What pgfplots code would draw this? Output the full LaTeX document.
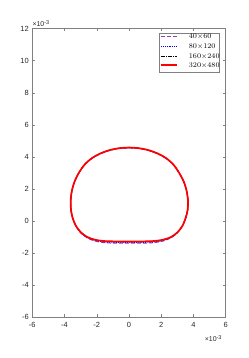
\documentclass[border=0pt]{standalone}
\usepackage{pgfplots}
\pgfplotsset{compat=1.18}
\usepackage{fontspec}
\newfontfamily\sansf{Liberation Sans}
\definecolor{axgray}{RGB}{38,38,38}
\definecolor{mpurple}{rgb}{0.55,0.25,0.7}
\definecolor{mblue}{rgb}{0,0,1}
\definecolor{mred}{rgb}{1,0,0}
\tikzset{
  sA/.style={draw=mpurple, dash pattern=on 4bp off 2bp, line width=1bp},
  sB/.style={draw=mblue, dash pattern=on 0.9bp off 0.9bp, line width=0.9bp},
  sC/.style={draw=black, dash pattern=on 3.5bp off 1.2bp on 0.9bp off 1.2bp, line width=0.9bp},
  sD/.style={draw=mred, solid, line width=1.7bp},
}
\begin{document}
\begin{tikzpicture}
\path[use as bounding box] (0,0) rectangle (249bp,358bp);
\begin{axis}[
  name=ax,
  at={(32.3bp,41bp)}, anchor=south west,
  scale only axis, width=193.4bp, height=288.3bp,
  xmin=-6, xmax=6, ymin=-6, ymax=12,
  xtick={-6,-4,-2,0,2,4,6}, ytick={-6,-4,-2,0,2,4,6,8,10,12},
  xticklabels={-6,-4,-2,0,2,4,6},
  yticklabels={-6,-4,-2,0,2,4,6,8,10,12},
  tick align=inside, xtick pos=both, ytick pos=both,
  xticklabel pos=lower, yticklabel pos=left,
  major tick length=2.5bp,
  axis line style={black!50, line width=0.5bp},
  every tick/.style={black!50, line width=0.5bp},
  ticklabel style={font=\sansf\fontsize{7.5}{9}\selectfont, text=axgray},
  xticklabel style={yshift=-2bp},
]
\addplot[sA, smooth] coordinates {
(0,4.56) (0.6,4.52) (1.2,4.40) (1.8,4.18) (2.3,3.90) (2.75,3.50) (3.1,3.00) (3.4,2.43) (3.58,1.83) (3.66,1.23) (3.64,0.68) (3.52,0.18) (3.30,-0.33) (3.00,-0.75) (2.60,-1.06) (2.1,-1.26) (1.5,-1.36) (0.8,-1.39) (0,-1.39) (-0.8,-1.39) (-1.5,-1.36) (-2.1,-1.26) (-2.6,-1.06) (-3.0,-0.75) (-3.28,-0.33) (-3.5,0.18) (-3.6,0.68) (-3.62,1.23) (-3.55,1.83) (-3.38,2.43) (-3.1,3.00) (-2.75,3.50) (-2.3,3.90) (-1.8,4.18) (-1.2,4.40) (-0.6,4.52) (0,4.56)
};
\addplot[sB, smooth] coordinates {
(0,4.57) (0.6,4.53) (1.2,4.41) (1.8,4.19) (2.3,3.91) (2.75,3.51) (3.1,3.01) (3.4,2.44) (3.58,1.84) (3.66,1.24) (3.64,0.69) (3.52,0.19) (3.31,-0.31) (3.01,-0.72) (2.61,-1.03) (2.1,-1.22) (1.5,-1.32) (0.8,-1.34) (0,-1.34) (-0.8,-1.34) (-1.5,-1.32) (-2.1,-1.22) (-2.6,-1.03) (-3.0,-0.72) (-3.29,-0.31) (-3.5,0.19) (-3.6,0.69) (-3.62,1.24) (-3.55,1.84) (-3.38,2.44) (-3.1,3.01) (-2.75,3.51) (-2.3,3.91) (-1.8,4.19) (-1.2,4.41) (-0.6,4.53) (0,4.57)
};
\addplot[sC, smooth] coordinates {
(0,4.58) (0.6,4.54) (1.2,4.42) (1.8,4.20) (2.3,3.92) (2.75,3.52) (3.1,3.02) (3.4,2.45) (3.58,1.85) (3.66,1.25) (3.64,0.70) (3.52,0.20) (3.32,-0.30) (3.02,-0.70) (2.62,-1.00) (2.1,-1.19) (1.5,-1.27) (0.8,-1.29) (0,-1.29) (-0.8,-1.29) (-1.5,-1.27) (-2.1,-1.19) (-2.6,-1.00) (-3.0,-0.70) (-3.3,-0.30) (-3.5,0.20) (-3.6,0.70) (-3.62,1.25) (-3.55,1.85) (-3.38,2.45) (-3.1,3.02) (-2.75,3.52) (-2.3,3.92) (-1.8,4.20) (-1.2,4.42) (-0.6,4.54) (0,4.58)
};
\addplot[sD, smooth] coordinates {
(0,4.58) (0.6,4.54) (1.2,4.42) (1.8,4.20) (2.3,3.92) (2.75,3.52) (3.1,3.02) (3.4,2.45) (3.58,1.85) (3.66,1.25) (3.64,0.70) (3.52,0.20) (3.32,-0.30) (3.02,-0.70) (2.62,-1.00) (2.1,-1.18) (1.5,-1.26) (0.8,-1.28) (0,-1.28) (-0.8,-1.28) (-1.5,-1.26) (-2.1,-1.18) (-2.6,-1.00) (-3.0,-0.70) (-3.3,-0.30) (-3.5,0.20) (-3.6,0.70) (-3.62,1.25) (-3.55,1.85) (-3.38,2.45) (-3.1,3.02) (-2.75,3.52) (-2.3,3.92) (-1.8,4.20) (-1.2,4.42) (-0.6,4.54) (0,4.58)
};
\end{axis}
% legend
\draw[black!50, line width=0.5bp, fill=white] ([shift={(-66.4bp,-4.3bp)}]ax.north east) rectangle ([shift={(-6.7bp,-43.3bp)}]ax.north east);
\draw[sA] ([shift={(-64.4bp,-8.3bp)}]ax.north east) -- ++(16bp,0);
\draw[sB] ([shift={(-64.4bp,-17.6bp)}]ax.north east) -- ++(16bp,0);
\draw[sC] ([shift={(-64.4bp,-27.3bp)}]ax.north east) -- ++(16bp,0);
\draw[sD] ([shift={(-64.4bp,-36.6bp)}]ax.north east) -- ++(16bp,0);
\begin{scope}[every node/.style={anchor=west, inner sep=0pt, font=\fontsize{7.2}{8}\selectfont}]
\node at ([shift={(-37bp,-8.3bp)}]ax.north east) {40$\times$60};
\node at ([shift={(-37bp,-17.6bp)}]ax.north east) {80$\times$120};
\node at ([shift={(-37bp,-27.3bp)}]ax.north east) {160$\times$240};
\node at ([shift={(-37bp,-36.6bp)}]ax.north east) {320$\times$480};
\end{scope}
\node[anchor=south west, inner sep=0pt, text=axgray, font=\sansf\fontsize{7}{8}\selectfont] at ([yshift=1.5bp]ax.north west) {×10\raisebox{0.55ex}{\fontsize{5.5}{6}\selectfont -3}};
\node[anchor=north east, inner sep=0pt, text=axgray, font=\sansf\fontsize{7}{8}\selectfont] at ([xshift=-4bp, yshift=-18bp]ax.south east) {×10\raisebox{0.55ex}{\fontsize{5.5}{6}\selectfont -3}};
\end{tikzpicture}
\end{document}
